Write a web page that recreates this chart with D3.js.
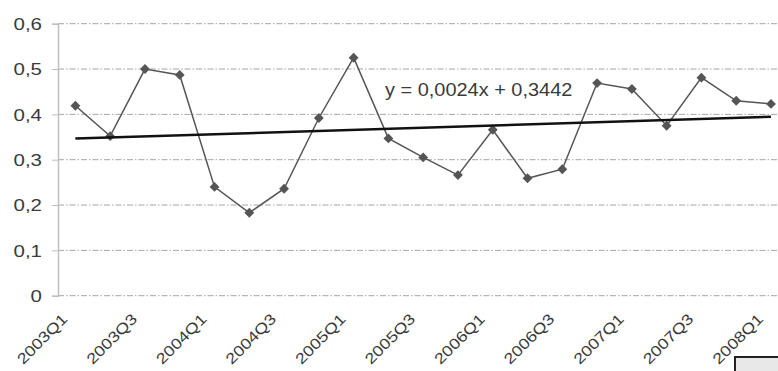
<!DOCTYPE html>
<html><head><meta charset="utf-8">
<script src="https://cdn.jsdelivr.net/npm/d3@7"></script>
<style>html,body{margin:0;padding:0;background:#fff;overflow:hidden}</style>
</head><body>
<svg id="c" width="778" height="371"></svg>
<script>
const categories = ["2003Q1","2003Q2","2003Q3","2003Q4","2004Q1","2004Q2","2004Q3","2004Q4",
  "2005Q1","2005Q2","2005Q3","2005Q4","2006Q1","2006Q2","2006Q3","2006Q4",
  "2007Q1","2007Q2","2007Q3","2007Q4","2008Q1"];
const values = [0.419,0.352,0.500,0.487,0.240,0.183,0.236,0.392,0.525,0.347,0.305,0.266,
  0.366,0.259,0.279,0.469,0.456,0.375,0.481,0.430,0.423];
const yTicks = [0,0.1,0.2,0.3,0.4,0.5,0.6];
const trendSlope = 0.0024;
const trendIntercept = 0.3442;

const loc = d3.formatLocale({decimal:",", thousands:" ", grouping:[3], currency:["",""]});
const fTick = loc.format(".1~f");
const fCoef = loc.format(".4f");

const svg = d3.select("#c");
const left = 58, band = 34.78;
const x = d3.scaleBand().domain(categories).range([left, left + band*categories.length]).paddingInner(0).paddingOuter(0);
const y = d3.scaleLinear().domain([0,0.6]).range([295.7, 23.7]);
const cx = d => x(d) + x.bandwidth()/2;
const textCol = "#3a3a3a";
const font = "'Liberation Sans', Arial, sans-serif";

// gridlines
svg.append("g").selectAll("line").data(yTicks).join("line")
  .attr("x1", left).attr("x2", 790)
  .attr("y1", d => y(d)).attr("y2", d => y(d))
  .attr("stroke", "#a6a6a6").attr("stroke-width", 1)
  .attr("stroke-dasharray", "6,2,1.5,2");

// y axis
const yAxis = d3.axisLeft(y).tickValues(yTicks).tickSize(6).tickFormat(fTick);
const ga = svg.append("g").attr("transform", `translate(${left},0)`).call(yAxis);
ga.select(".domain").attr("stroke", "#bfbfbf").attr("stroke-width", 1.5);
ga.selectAll(".tick line").attr("stroke", "#bfbfbf").attr("stroke-width", 1);
ga.selectAll(".tick text").attr("x", null).attr("dy", null)
  .attr("font-family", font).attr("font-size", 16).attr("fill", textCol)
  .attr("text-anchor", "end").attr("dominant-baseline", "central")
  .attr("transform", "translate(-16,0) scale(1.28,1)");

// x labels
svg.append("g").selectAll("text").data(categories.filter((d,i) => i % 2 === 0)).join("text")
  .attr("transform", d => `translate(${cx(d)-7},${320}) rotate(-45) scale(1.2,1)`)
  .attr("text-anchor", "end")
  .attr("font-family", font).attr("font-size", 15).attr("fill", textCol)
  .text(d => d);

// data line
const line = d3.line().x((d,i) => cx(categories[i])).y(d => y(d));
svg.append("path").datum(values).attr("d", line)
  .attr("fill", "none").attr("stroke", "#555").attr("stroke-width", 1.5);

// markers
const sym = d3.symbol().type(d3.symbolDiamond2).size(62);
svg.append("g").selectAll("path").data(values).join("path")
  .attr("d", sym)
  .attr("transform", (d,i) => `translate(${cx(categories[i])},${y(d)})`)
  .attr("fill", "#555");

// trendline
const tIdx = [1, categories.length];
svg.append("line")
  .attr("x1", cx(categories[0])).attr("y1", y(trendSlope*tIdx[0] + trendIntercept))
  .attr("x2", cx(categories[categories.length-1])).attr("y2", y(trendSlope*tIdx[1] + trendIntercept))
  .attr("stroke", "#111").attr("stroke-width", 2.5);

// equation
svg.append("text")
  .attr("transform", "translate(385,96) scale(1.14,1)")
  .attr("font-family", font).attr("font-size", 17.5).attr("fill", textCol)
  .text(`y = ${fCoef(trendSlope)}x + ${fCoef(trendIntercept)}`);

// cropped box bottom-right
svg.append("rect").attr("x", 735).attr("y", 357).attr("width", 50).attr("height", 20)
  .attr("fill", "#e8e8e8").attr("stroke", "#222").attr("stroke-width", 2);
</script>
</body></html>
